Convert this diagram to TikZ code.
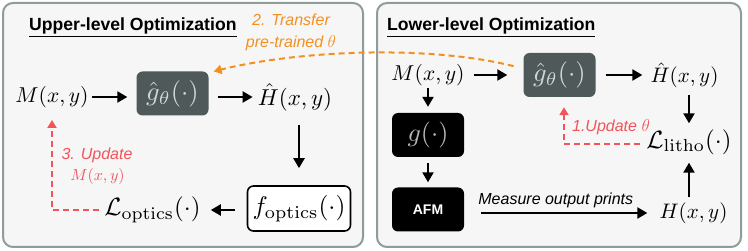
\documentclass[tikz,border=0pt]{standalone}
\usepackage[no-math]{fontspec}
\usepackage{graphicx}
\usetikzlibrary{arrows.meta}
\newfontfamily\sfl{Liberation Sans}
\definecolor{pborder}{HTML}{8E9C9A}
\definecolor{pfill}{HTML}{F6F6F6}
\definecolor{gboxc}{HTML}{4F5959}
\definecolor{gtxt}{HTML}{D2D6D6}
\definecolor{ktxt}{HTML}{B8B8B8}
\definecolor{redd}{HTML}{F2545B}
\definecolor{orng}{HTML}{F39020}
\newcommand\mth[2][2.15]{\scalebox{#1}{$#2$}}
\begin{document}
\begin{tikzpicture}[x=1pt,y=-1pt,
  panel/.style={draw=pborder,line width=2pt,fill=pfill,rounded corners=10pt},
  ttl/.style={font=\sfl\bfseries\fontsize{17.6}{21}\selectfont,anchor=base west,inner sep=0pt},
  var/.style={inner sep=0pt},
  gb/.style={fill=gboxc,text=gtxt,rounded corners=6pt,minimum width=72pt,minimum height=44pt,inner sep=0pt},
  kb/.style={fill=black,text=ktxt,rounded corners=6pt,minimum width=72pt,minimum height=44pt,inner sep=0pt},
  wb/.style={draw=black,line width=1.6pt,fill=white,rounded corners=6pt,minimum width=103pt,minimum height=45pt,inner sep=0pt},
  lab/.style={font=\sfl\itshape\fontsize{16}{19}\selectfont,inner sep=0pt},
  arr/.style={line width=2.2pt,-{Triangle[length=10pt,width=11pt]}},
  dsh/.style={line width=2pt,dash pattern=on 6pt off 4pt,-{Triangle[length=8pt,width=9pt]}}]
\useasboundingbox (0,0) rectangle (748,251);
\draw[panel] (3,3) rectangle (363,247);
\draw[panel] (377,3) rectangle (741,247);
\node[ttl] (t1) at (29,31) {\underline{Upper-level Optimization}};
\node[ttl] (t2) at (387,31) {\underline{Lower-level Optimization}};
% upper level
\node[var] (M1) at (52,97) {\mth{M(x,y)}};
\node[gb] (gh1) at (172.5,93.5) {\mth[2.65]{\hat g_\theta(\cdot)}};
\node[var] (Hh1) at (295,97) {\mth[2.3]{\hat H(x,y)}};
\node[wb] (fo) at (299,208.5) {\mth[2.55]{f_{\mathrm{optics}}(\cdot)}};
\node[var] (Lo) at (152.5,210) {\mth[2.5]{\mathcal{L}_{\mathrm{optics}}(\cdot)}};
\draw[arr,shorten <=3pt,shorten >=9pt] (M1.east) -- (M1.east -| gh1.west);
\draw[arr,shorten <=9pt,shorten >=5pt] (gh1.east |- Hh1.west) -- (Hh1.west);
\draw[arr,shorten <=14pt,shorten >=17pt] (Hh1.south -| fo.north) -- (fo.north);
\draw[arr,shorten <=12pt,shorten >=10pt] (fo.west |- Lo.east) -- (Lo.east);
\draw[dsh,redd,shorten <=5pt,shorten >=12pt] (Lo.west) -- (Lo.west -| M1.south) -- (M1.south);
\node[lab,text=redd] (u3a) at (97,155) {3. Update};
\node[var,text=redd] (u3b) at (97.5,177) {\mth[1.6]{M(x,y)}};
% lower level
\node[var] (M2) at (428,75) {\mth{M(x,y)}};
\node[gb] (gh2) at (559.5,75) {\mth[2.65]{\hat g_\theta(\cdot)}};
\node[var] (Hh2) at (684.5,75) {\mth[2.1]{\hat H(x,y)}};
\node[var] (Ll) at (689,142) {\mth[2.5]{\mathcal{L}_{\mathrm{litho}}(\cdot)}};
\node[var] (H2) at (693.5,213) {\mth[2.1]{H(x,y)}};
\node[kb] (g) at (428,135) {\mth[2.6]{g(\cdot)}};
\node[kb,text=white,font=\sfl\bfseries\fontsize{14}{16}\selectfont] (afm) at (428,209.5) {AFM};
\draw[arr,shorten <=9pt,shorten >=16pt] (M2.east) -- (M2.east -| gh2.west);
\draw[arr,shorten <=10pt,shorten >=8pt] (gh2.east) -- (gh2.east -| Hh2.west);
\draw[arr,shorten <=7pt,shorten >=6pt] (Ll.north |- Hh2.south) -- (Ll.north);
\draw[arr,shorten <=5pt,shorten >=8pt] (H2.north -| Ll.south) -- (Ll.south);
\draw[arr,shorten <=2pt,shorten >=6pt] (M2.south) -- (g.north);
\draw[arr,shorten <=6pt,shorten >=5pt] (g.south) -- (afm.north);
\draw[arr,shorten <=17pt,shorten >=12pt] (afm.east |- H2.west) -- node[lab,above=4pt,xshift=-6pt] (mop) {Measure output prints} (H2.west);
\coordinate (r1) at ([yshift=-2pt]Ll.west);
\coordinate (r2) at ([xshift=4.5pt]gh2.south);
\draw[dsh,redd,shorten <=6pt,shorten >=10pt] (r1) -- (r1 -| r2) -- (r2);
\node[lab,text=redd] (u1) at (611,127) {1.Update $\theta$};
% transfer
\draw[dsh,orng,shorten <=10pt,shorten >=5pt] (gh2.170) .. controls (430,45) and (300,50) .. (gh1.30);
\node[lab,text=orng] (tr1) at (291,20) {2. Transfer};
\node[lab,text=orng] (tr2) at (291,43) {pre-trained $\theta$};
\end{tikzpicture}
\end{document}
